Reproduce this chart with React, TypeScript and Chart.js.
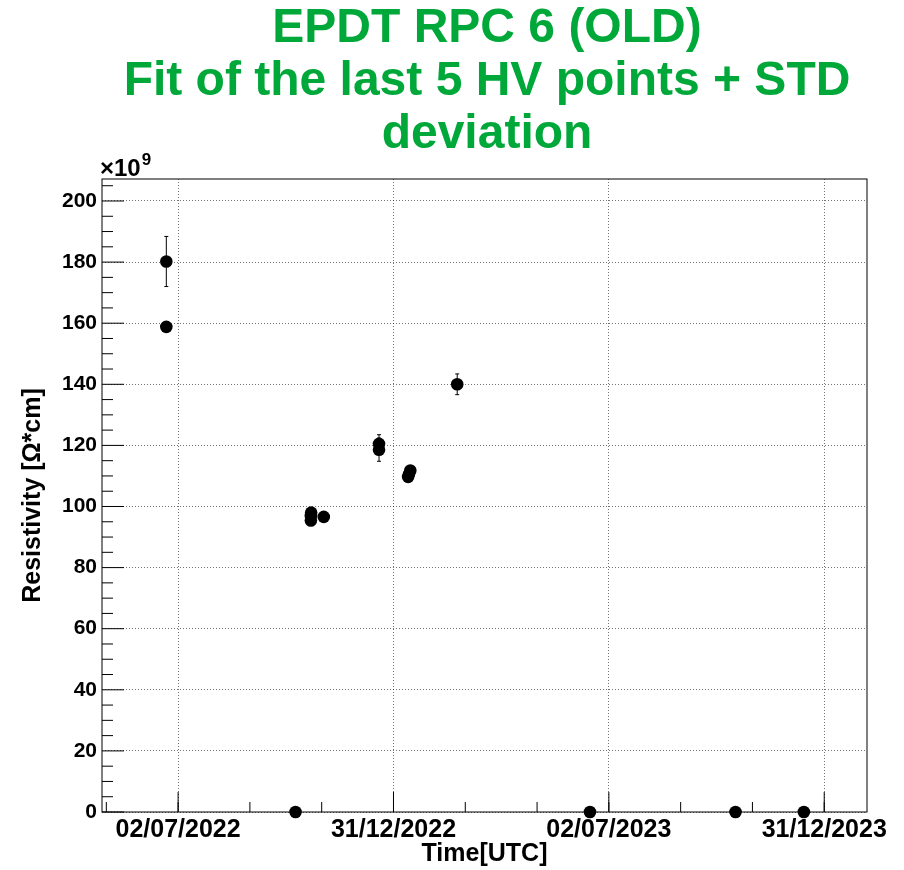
import { useEffect, useRef } from 'react';
import { Chart, registerables } from 'chart.js';

Chart.register(...registerables);

// Fitted resistivity of EPDT RPC 6 (old gas), units of 1e9 Ω*cm
const measurementDates = [
  '2022-06-22T00:00Z', '2022-06-22T00:00Z',
  '2022-10-09T12:00Z',
  '2022-10-22T18:00Z', '2022-10-22T12:00Z', '2022-10-22T12:00Z',
  '2022-11-02T10:00Z',
  '2022-12-19T06:00Z', '2022-12-19T06:00Z',
  '2023-01-12T22:00Z', '2023-01-13T16:00Z', '2023-01-14T18:00Z',
  '2023-02-23T12:00Z',
  '2023-06-16T00:00Z',
  '2023-10-17T08:00Z',
  '2023-12-14T06:00Z',
];
const resistivity = [
  180.2, 158.8,
  0,
  98.0, 96.9, 95.4,
  96.6,
  120.5, 118.6,
  109.7, 110.6, 111.8,
  140.0,
  0,
  0,
  0,
];
const resistivityStd = [
  8.2, 0.8,
  0,
  0.8, 0.8, 0.8,
  0.8,
  3.0, 3.8,
  0.8, 0.8, 0.8,
  3.4,
  0,
  0,
  0,
];

const titleLines = ['EPDT RPC 6 (OLD)', 'Fit of the last 5 HV points + STD', 'deviation'];
const xMajorTickDates = ['2022-07-02T00:00Z', '2022-12-31T12:00Z', '2023-07-02T00:00Z', '2023-12-31T12:00Z'];
const xMajorTickLabels = ['02/07/2022', '31/12/2022', '02/07/2023', '31/12/2023'];
const xRangeDates = ['2022-04-28T12:00Z', '2024-02-05T18:00Z'];
const yRange = [0, 207.2];
const yMajorStep = 20;
const yMinorStep = 5;
const xMinorPerMajor = 3;

const FONT = "'Liberation Sans', Arial, Helvetica, sans-serif";
const TITLE_GREEN = '#00A83A';
const GRID_COLOR = 'rgba(0,0,0,0.55)';

const toMs = (s: string) => Date.parse(s);

const xMin = toMs(xRangeDates[0]);
const xMax = toMs(xRangeDates[1]);
const xMajors = xMajorTickDates.map(toMs);

function xMinorTicks(): number[] {
  const step = (xMajors[1] - xMajors[0]) / xMinorPerMajor;
  const out: number[] = [];
  for (let v = xMajors[0]; v >= xMin; v -= step) out.push(v);
  for (let v = xMajors[0] + step; v <= xMax; v += step) out.push(v);
  return out;
}

function yTickValues(): number[] {
  const out: number[] = [];
  for (let v = yRange[0]; v <= yRange[1] + 1e-9; v += yMinorStep) out.push(v);
  return out;
}

const isYMajor = (v: number) => Math.abs(v / yMajorStep - Math.round(v / yMajorStep)) < 1e-6;

// Three-line title, centred over the pad
const padTitle = {
  id: 'padTitle',
  afterDraw(chart: any) {
    const { ctx } = chart;
    ctx.save();
    ctx.fillStyle = TITLE_GREEN;
    ctx.font = `bold 48px ${FONT}`;
    ctx.textAlign = 'center';
    ctx.textBaseline = 'middle';
    const lineH = 53;
    titleLines.forEach((line, i) => {
      ctx.fillText(line, 487, 29 + i * lineH);
    });
    ctx.restore();
  },
};

const rootStyle = {
  id: 'rootStyle',
  beforeDatasetsDraw(chart: any) {
    const { ctx } = chart;
    const xs = chart.scales.x;
    const ys = chart.scales.y;
    ctx.save();
    ctx.strokeStyle = '#000';
    ctx.lineWidth = 1;
    resistivity.forEach((v, i) => {
      const e = resistivityStd[i];
      if (!e) return;
      const px = xs.getPixelForValue(toMs(measurementDates[i]));
      const top = ys.getPixelForValue(v + e);
      const bot = ys.getPixelForValue(v - e);
      ctx.beginPath();
      ctx.moveTo(px, top);
      ctx.lineTo(px, bot);
      ctx.moveTo(px - 2, top);
      ctx.lineTo(px + 2, top);
      ctx.moveTo(px - 2, bot);
      ctx.lineTo(px + 2, bot);
      ctx.stroke();
    });
    ctx.restore();
  },
  afterDraw(chart: any) {
    const { ctx, chartArea: a } = chart;
    const xs = chart.scales.x;
    const ys = chart.scales.y;
    ctx.save();
    ctx.strokeStyle = '#000';
    ctx.lineWidth = 1;
    // frame
    ctx.strokeRect(a.left, a.top, a.right - a.left, a.bottom - a.top);
    // y ticks, pointing inwards
    ctx.beginPath();
    yTickValues().forEach((v) => {
      const py = ys.getPixelForValue(v);
      const len = isYMajor(v) ? 22 : 11;
      ctx.moveTo(a.left, py);
      ctx.lineTo(a.left + len, py);
    });
    // x ticks, pointing inwards
    xMajors.forEach((v) => {
      const px = xs.getPixelForValue(v);
      ctx.moveTo(px, a.bottom);
      ctx.lineTo(px, a.bottom - 20);
    });
    xMinorTicks().forEach((v) => {
      const px = xs.getPixelForValue(v);
      ctx.moveTo(px, a.bottom);
      ctx.lineTo(px, a.bottom - 10);
    });
    ctx.stroke();
    // axis multiplier
    ctx.fillStyle = '#000';
    ctx.textBaseline = 'alphabetic';
    ctx.textAlign = 'left';
    ctx.font = `bold 24px ${FONT}`;
    const base = '\u00d710';
    ctx.fillText(base, a.left - 2, a.top - 3);
    const w = ctx.measureText(base).width;
    ctx.font = `bold 17px ${FONT}`;
    ctx.fillText('9', a.left - 2 + w + 1, a.top - 14);
    ctx.restore();
  },
};

export default function App() {
  const canvasRef = useRef<HTMLCanvasElement | null>(null);

  useEffect(() => {
    const canvas = canvasRef.current;
    if (!canvas) return;
    const points = resistivity.map((v, i) => ({ x: toMs(measurementDates[i]), y: v }));

    const chart = new Chart(canvas, {
      type: 'scatter',
      data: {
        datasets: [
          {
            data: points,
            pointRadius: 6.3,
            pointHoverRadius: 6.3,
            pointBackgroundColor: '#000',
            pointBorderColor: '#000',
            pointBorderWidth: 0,
            showLine: false,
            clip: false,
          } as any,
        ],
      },
      options: {
        animation: false,
        responsive: true,
        maintainAspectRatio: false,
        layout: { padding: { left: 0, right: 37, top: 179, bottom: 0 } },
        plugins: {
          legend: { display: false },
          tooltip: { enabled: false },
          title: { display: false },
        },
        scales: {
          x: {
            type: 'linear',
            min: xMin,
            max: xMax,
            afterBuildTicks: (scale: any) => {
              scale.ticks = xMajors.map((v) => ({ value: v }));
            },
            afterFit: (scale: any) => {
              scale.height = 58;
            },
            border: { display: false, dash: [1, 2] },
            grid: {
              display: true,
              drawTicks: false,
              color: GRID_COLOR,
              lineWidth: 1,
            },
            ticks: {
              autoSkip: false,
              maxRotation: 0,
              padding: 3,
              color: '#000',
              font: { family: FONT, size: 25, weight: 'bold' },
              callback: (value: any) => {
                const idx = xMajors.indexOf(Number(value));
                return idx >= 0 ? xMajorTickLabels[idx] : '';
              },
            },
            title: {
              display: true,
              text: 'Time[UTC]',
              color: '#000',
              font: { family: FONT, size: 25, weight: 'bold', lineHeight: 1.2 },
              padding: { top: 0, bottom: 1 },
            },
          } as any,
          y: {
            type: 'linear',
            min: yRange[0],
            max: yRange[1],
            afterBuildTicks: (scale: any) => {
              scale.ticks = yTickValues().map((v) => ({ value: v }));
            },
            afterFit: (scale: any) => {
              scale.width = 102;
            },
            border: { display: false, dash: [1, 2] },
            grid: {
              display: true,
              drawTicks: false,
              color: (c: any) => (isYMajor(c.tick.value) ? GRID_COLOR : 'rgba(0,0,0,0)'),
              lineWidth: 1,
            },
            ticks: {
              autoSkip: false,
              padding: 5,
              color: '#000',
              font: { family: FONT, size: 21, weight: 'bold' },
              callback: (value: any) => (isYMajor(Number(value)) ? String(Math.round(Number(value))) : ''),
            },
            title: {
              display: true,
              text: 'Resistivity [\u03a9*cm]',
              color: '#000',
              font: { family: FONT, size: 25, weight: 'bold', lineHeight: 1.2 },
              padding: { top: 18, bottom: 0 },
            },
          } as any,
        },
      },
      plugins: [rootStyle, padTitle],
    });

    return () => chart.destroy();
  }, []);

  return (
    <div style={{ position: 'fixed', left: 0, top: 0, width: 904, height: 870, background: '#fff' }}>
      <canvas ref={canvasRef} />
    </div>
  );
}
